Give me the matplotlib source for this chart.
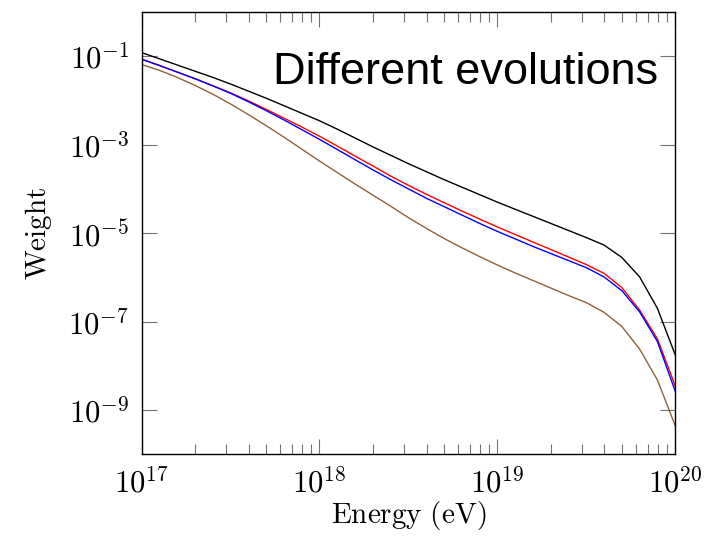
"""
  Weight vs energy for different source evolutions
"""
import numpy as np
import matplotlib
matplotlib.use('Agg')
import matplotlib.pyplot as plt
from matplotlib.ticker import FixedLocator, LogLocator, NullLocator, FixedFormatter

plt.rcParams['mathtext.fontset'] = 'cm'

# log10 of energy (eV), 0.1 decade steps
logE = [17.0, 17.1, 17.2, 17.3, 17.4, 17.5, 17.6, 17.7, 17.8, 17.9,
        18.0, 18.1, 18.2, 18.3, 18.4, 18.5, 18.6, 18.7, 18.8, 18.9,
        19.0, 19.1, 19.2, 19.3, 19.4, 19.5, 19.6, 19.7, 19.8, 19.9, 20.0]

# log10 of weight, one list per evolution
black = [-0.92, -1.06, -1.20, -1.34, -1.48, -1.63, -1.79, -1.95, -2.12, -2.29,
         -2.46, -2.65, -2.85, -3.05, -3.24, -3.43, -3.61, -3.79, -3.96, -4.13,
         -4.30, -4.46, -4.62, -4.78, -4.94, -5.10, -5.27, -5.55, -5.99, -6.70, -7.75]
red = [-1.07, -1.21, -1.36, -1.51, -1.67, -1.83, -2.01, -2.20, -2.40, -2.60,
       -2.81, -3.03, -3.26, -3.48, -3.71, -3.92, -4.12, -4.31, -4.50, -4.68,
       -4.86, -5.03, -5.20, -5.37, -5.54, -5.71, -5.91, -6.23, -6.74, -7.39, -8.45]
blue = [-1.07, -1.21, -1.36, -1.51, -1.67, -1.84, -2.03, -2.23, -2.44, -2.66,
        -2.88, -3.11, -3.34, -3.57, -3.79, -4.00, -4.21, -4.40, -4.59, -4.78,
        -4.96, -5.13, -5.30, -5.46, -5.62, -5.78, -5.99, -6.30, -6.78, -7.45, -8.57]
brown = [-1.19, -1.32, -1.48, -1.66, -1.86, -2.08, -2.32, -2.57, -2.83, -3.10,
         -3.37, -3.63, -3.89, -4.14, -4.39, -4.65, -4.89, -5.12, -5.33, -5.53,
         -5.72, -5.90, -6.07, -6.24, -6.41, -6.57, -6.79, -7.11, -7.62, -8.32, -9.35]

series = [(black, 'black'), (red, 'red'), (blue, 'blue'), (brown, '#8c6239')]

fig = plt.figure(figsize=(7.13, 5.39), dpi=100)
ax = fig.add_axes([0.1985, 0.157, 0.7485, 0.821])

E = 10.0 ** np.array(logE)
for vals, col in series:
  ax.plot(E, 10.0 ** np.array(vals), color=col, lw=1.0)

ax.set_xscale('log')
ax.set_yscale('log')
ax.set_xlim(1e17, 1e20)
ax.set_ylim(1e-10, 1e0)

# x ticks: decades + minor
ax.xaxis.set_major_locator(FixedLocator([1e17, 1e18, 1e19, 1e20]))
ax.xaxis.set_major_formatter(FixedFormatter([r'$10^{17}$', r'$10^{18}$', r'$10^{19}$', r'$10^{20}$']))
ax.xaxis.set_minor_locator(LogLocator(base=10, subs=np.arange(2, 10)))
# y ticks: odd decades only
ax.yaxis.set_major_locator(FixedLocator([1e-9, 1e-7, 1e-5, 1e-3, 1e-1]))
ax.yaxis.set_major_formatter(FixedFormatter([r'$10^{-9}$', r'$10^{-7}$', r'$10^{-5}$', r'$10^{-3}$', r'$10^{-1}$']))
ax.yaxis.set_minor_locator(NullLocator())

ax.tick_params(which='both', direction='in', top=True, right=True, color='0.45', width=0.8)
ax.tick_params(which='major', length=11, labelsize=22, pad=9)
ax.tick_params(which='minor', length=7)
for s in ax.spines.values():
  s.set_linewidth(1.0)

ax.set_xlabel(r'$\mathrm{Energy\ (eV)}$', fontsize=21, labelpad=1)
ax.set_ylabel(r'$\mathrm{Weight}$', fontsize=21, labelpad=10)

ax.text(0.9676, 0.864, 'Different evolutions', transform=ax.transAxes,
        ha='right', va='center', fontsize=32.5, family='Liberation Sans')

plt.savefig('out.png', dpi=100)
